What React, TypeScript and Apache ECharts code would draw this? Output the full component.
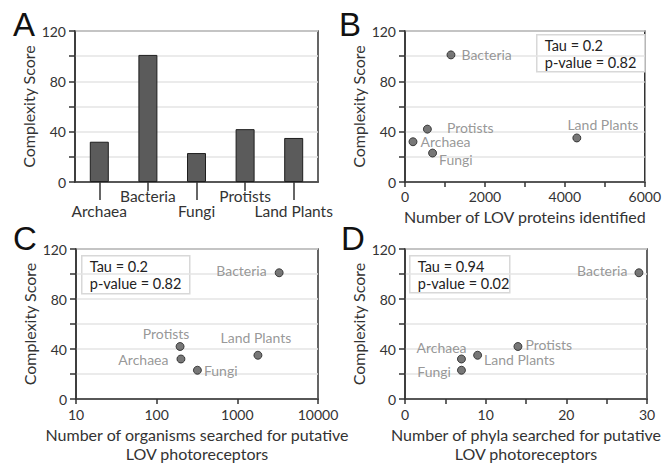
import React, { useEffect, useRef } from "react";
import * as echarts from "echarts";

const categories = ["Archaea", "Bacteria", "Fungi", "Protists", "Land Plants"];
const complexityScore = [32, 101, 23, 42, 35];
const lovProteins = [200, 1150, 690, 560, 4300];
const organismsSearched = [200, 3300, 320, 195, 1800];
const phylaSearched = [7, 29, 7, 14, 9];
const yTicks = [0, 40, 80, 120];
const statsB = ["Tau = 0.2", "p-value = 0.82"];
const statsC = ["Tau = 0.2", "p-value = 0.82"];
const statsD = ["Tau = 0.94", "p-value = 0.02"];

const FONT = 'Lato, "Open Sans", sans-serif';
const AX = "#333";
const LBL = "#7d7d7d";
const TICK_FS = 14;
const NAME_FS = 16;
const CAT_FS = 15.5;
const PT_FS = 14;

type Place = { position: string; distance: number; offset: [number, number] };
const placeB: Place[] = [
  { position: "right", distance: 3, offset: [0, 0] },
  { position: "right", distance: 6, offset: [0, 0] },
  { position: "right", distance: 2, offset: [0, 6] },
  { position: "right", distance: 15, offset: [0, -2] },
  { position: "top", distance: 2, offset: [26, 0] },
];
const placeC: Place[] = [
  { position: "left", distance: 8, offset: [0, 0] },
  { position: "left", distance: 8, offset: [0, -2] },
  { position: "right", distance: 2, offset: [0, 0] },
  { position: "top", distance: 2, offset: [-14, 0] },
  { position: "top", distance: 6, offset: [-2, 0] },
];
const placeD: Place[] = [
  { position: "top", distance: 0, offset: [-20, 0] },
  { position: "left", distance: 7, offset: [0, -2] },
  { position: "left", distance: 6, offset: [0, 1] },
  { position: "right", distance: 3, offset: [0, -2] },
  { position: "right", distance: 2, offset: [0, 4] },
];

function yAxisCfg(gridIndex: number) {
  return {
    type: "value",
    gridIndex,
    min: 0,
    max: 120,
    interval: 20,
    name: "Complexity Score",
    nameLocation: "middle",
    nameGap: 39,
    nameTextStyle: { fontSize: NAME_FS, color: AX, fontFamily: FONT },
    axisLine: { show: true, lineStyle: { color: AX, width: 1.5 } },
    axisTick: { show: true, length: 6, lineStyle: { color: AX, width: 1.5 } },
    axisLabel: {
      fontSize: TICK_FS,
      color: AX,
      fontFamily: FONT,
      margin: 9,
      formatter: (v: number) => (yTicks.includes(v) ? String(v) : ""),
    },
    splitLine: { show: true, lineStyle: { color: "#e4e4e4", width: 1.5 } },
  };
}

function xValueAxis(gridIndex: number, extra: any, name: string) {
  return {
    gridIndex,
    name,
    nameLocation: "middle",
    nameGap: 26,
    nameTextStyle: { fontSize: NAME_FS, color: AX, fontFamily: FONT, lineHeight: 19 },
    axisLine: { show: true, onZero: false, lineStyle: { color: AX, width: 1.5 } },
    axisTick: { show: true, length: 5, lineStyle: { color: AX, width: 1.5 } },
    splitLine: { show: false },
    ...extra,
  };
}

function scatterSeries(idx: number, xs: number[], place: Place[]) {
  return {
    type: "scatter",
    xAxisIndex: idx + 1,
    yAxisIndex: idx,
    symbolSize: 8,
    itemStyle: { color: "#555", borderColor: "#222", borderWidth: 1 },
    data: xs.map((x, i) => ({
      value: [x, complexityScore[i]],
      name: categories[i],
      label: {
        show: true,
        formatter: categories[i],
        position: place[i].position,
        distance: place[i].distance,
        offset: place[i].offset,
        color: LBL,
        fontSize: PT_FS,
        fontFamily: FONT,
      },
    })),
  };
}

function statsBox(x: number, y: number, w: number, h: number, lines: string[]) {
  return {
    type: "group",
    left: x,
    top: y,
    children: [
      {
        type: "rect",
        shape: { x: 0, y: 0, width: w, height: h },
        style: { fill: "#fff", stroke: "#d8d8d8", lineWidth: 1.5 },
      },
      {
        type: "text",
        x: 8,
        y: 2,
        style: {
          text: lines.join("\n"),
          fontSize: 14.5,
          fontFamily: FONT,
          fill: "#222",
          lineHeight: 17,
        },
      },
    ],
  };
}

function letter(text: string, x: number, y: number) {
  return {
    type: "text",
    left: x,
    top: y,
    style: { text, fontSize: 33, fontFamily: '"Liberation Sans", Arial, sans-serif', fill: "#111" },
  };
}

export default function App() {
  const ref = useRef<HTMLDivElement>(null);
  useEffect(() => {
    document.body.style.margin = "0";
    const chart = echarts.init(ref.current!, undefined, { renderer: "svg" });
    const gridBase = { show: true, borderColor: AX, borderWidth: 1.5, backgroundColor: "transparent" };
    const option: any = {
      animation: false,
      textStyle: { fontFamily: FONT },
      grid: [
        { ...gridBase, left: 75, top: 31, width: 243, height: 151 },
        { ...gridBase, left: 405, top: 31, width: 243, height: 151 },
        { ...gridBase, left: 76, top: 249, width: 242, height: 152 },
        { ...gridBase, left: 405, top: 249, width: 242, height: 152 },
      ],
      xAxis: [
        {
          type: "category",
          gridIndex: 0,
          data: categories,
          position: "bottom",
          axisLine: { show: true, lineStyle: { color: AX, width: 1.5 } },
          axisTick: {
            show: true,
            alignWithLabel: true,
            length: 9,
            interval: (i: number) => i % 2 === 1,
            lineStyle: { color: AX, width: 1.5 },
          },
          axisLabel: {
            interval: (i: number) => i % 2 === 1,
            margin: 6,
            fontSize: CAT_FS,
            color: AX,
            fontFamily: FONT,
          },
        },
        {
          type: "category",
          gridIndex: 0,
          data: categories,
          position: "bottom",
          axisLine: { show: false },
          axisTick: {
            show: true,
            alignWithLabel: true,
            length: 18,
            interval: (i: number) => i % 2 === 0,
            lineStyle: { color: AX, width: 1.5 },
          },
          axisLabel: {
            interval: (i: number) => i % 2 === 0,
            margin: 21,
            fontSize: CAT_FS,
            color: AX,
            fontFamily: FONT,
          },
        },
        xValueAxis(
          1,
          {
            type: "value",
            min: 0,
            max: 6000,
            interval: 1000,
            nameGap: 25,
            axisLabel: {
              fontSize: TICK_FS,
              color: AX,
              fontFamily: FONT,
              margin: 7,
              formatter: (v: number) => (v % 2000 === 0 ? String(v) : ""),
            },
          },
          "Number of LOV proteins identified"
        ),
        xValueAxis(
          2,
          {
            type: "log",
            logBase: 10,
            min: 10,
            max: 10000,
            axisLabel: {
              fontSize: TICK_FS,
              color: AX,
              fontFamily: FONT,
              margin: 8,
              formatter: (v: number) => String(Math.round(v)),
            },
          },
          "Number of organisms searched for putative\nLOV photoreceptors"
        ),
        xValueAxis(
          3,
          {
            type: "value",
            min: 0,
            max: 30,
            interval: 5,
            axisLabel: {
              fontSize: TICK_FS,
              color: AX,
              fontFamily: FONT,
              margin: 8,
              formatter: (v: number) => (v % 10 === 0 ? String(v) : ""),
            },
          },
          "Number of phyla searched for putative\nLOV photoreceptors"
        ),
      ],
      yAxis: [yAxisCfg(0), yAxisCfg(1), yAxisCfg(2), yAxisCfg(3)],
      series: [
        {
          type: "bar",
          xAxisIndex: 0,
          yAxisIndex: 0,
          data: complexityScore,
          barWidth: 19,
          itemStyle: { color: "#5b5b5b", borderColor: "#1e1e1e", borderWidth: 1 },
        },
        scatterSeries(1, lovProteins, placeB),
        scatterSeries(2, organismsSearched, placeC),
        scatterSeries(3, phylaSearched, placeD),
      ],
      graphic: [
        letter("A", 13, 8),
        letter("B", 339, 8),
        letter("C", 13, 222),
        letter("D", 341, 222),
        statsBox(536, 34, 108, 37, statsB),
        statsBox(81, 255, 108, 38, statsC),
        statsBox(409, 255, 100, 37, statsD),
      ],
    };
    chart.setOption(option);
    return () => chart.dispose();
  }, []);
  return <div ref={ref} style={{ position: "absolute", left: 0, top: 0, width: 664, height: 464 }} />;
}
